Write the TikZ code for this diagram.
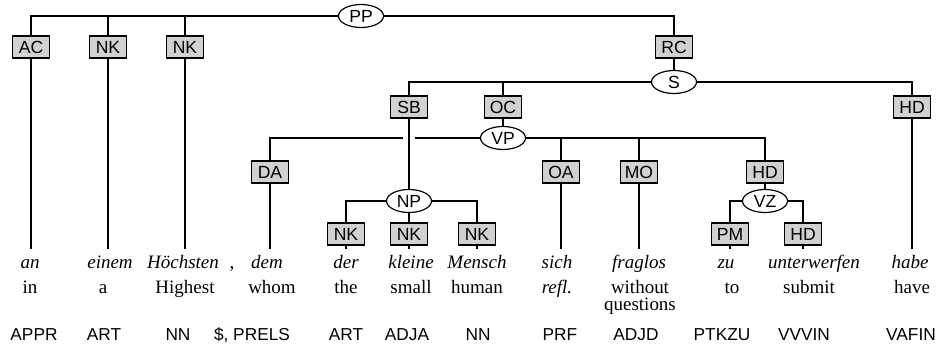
\documentclass[tikz,border=0pt]{standalone}
\usepackage{fontspec}
\setmainfont{Liberation Serif}
\setsansfont{Liberation Sans}
\usetikzlibrary{shapes.geometric}

\begin{document}
\begin{tikzpicture}[x=0.025cm, y=-0.025cm, line width=0.85pt,
    cat node/.style={ellipse,draw,fill=white,inner sep=0pt,minimum width=1.125cm,minimum height=0.575cm,font=\sffamily\fontsize{12.5}{12}\selectfont},
    fn node/.style={rectangle,draw,line width=1.1pt,fill=black!18,inner sep=0pt,minimum width=0.93cm,minimum height=0.55cm,font=\sffamily\fontsize{12.5}{12}\selectfont},
    word/.style={anchor=base,inner ysep=3pt,text height=10pt,font=\itshape\fontsize{13.5}{16}\selectfont},
    gloss/.style={anchor=base,font=\fontsize{13.5}{12}\selectfont},
    tag/.style={anchor=base,font=\sffamily\fontsize{12.3}{12}\selectfont},
    hv/.style={to path={-| (\tikztotarget)}}]

  \useasboundingbox (0,0) rectangle (939,347);

  % categories
  \node[cat node] (PP) at (361,16) {PP};
  \node[cat node] (S)  at (674,82) {S};
  \node[cat node] (VP) at (503,138) {VP};
  \node[cat node] (NP) at (409,201) {NP};
  \node[cat node] (VZ) at (765,201) {VZ};

  % functions
  \node[fn node] (AC)  at (31,47)  {AC};
  \node[fn node] (NKa) at (108,47) {NK};
  \node[fn node] (NKb) at (185,47) {NK};
  \node[fn node] (RC)  at (674,47) {RC};
  \node[fn node] (SB)  at (409,107) {SB};
  \node[fn node] (OC)  at (503,107) {OC};
  \node[fn node] (HDs) at (912,107) {HD};
  \node[fn node] (DA)  at (270,172) {DA};
  \node[fn node] (OA)  at (561,172) {OA};
  \node[fn node] (MO)  at (639,172) {MO};
  \node[fn node] (HDv) at (765,172) {HD};
  \node[fn node] (NKc) at (346,234) {NK};
  \node[fn node] (NKd) at (409,234) {NK};
  \node[fn node] (NKe) at (477,234) {NK};
  \node[fn node] (PM)  at (730,234) {PM};
  \node[fn node] (HDz) at (803,234) {HD};

  % words
  \node[word] (w1)  at (30,268)  {an};
  \node[word] (w2)  at (110,268) {einem};
  \node[word] (w3)  at (183,268) {Höchsten};
  \node[word,font=\fontsize{13.5}{16}\selectfont] (w4) at (232,268) {,};
  \node[word] (w5)  at (267,268) {dem};
  \node[word] (w6)  at (346,268) {der};
  \node[word] (w7)  at (411,268) {kleine};
  \node[word] (w8)  at (477,268) {Mensch};
  \node[word] (w9)  at (557,268) {sich};
  \node[word] (w10) at (639,268) {fraglos};
  \node[word] (w11) at (726,268) {zu};
  \node[word] (w12) at (814,268) {unterwerfen};
  \node[word] (w13) at (910,268) {habe};

  % glosses
  \node[gloss] (g1)  at (30,293)  {in};
  \node[gloss] (g2)  at (103,293) {a};
  \node[gloss] (g3)  at (185,293) {Highest};
  \node[gloss] (g5)  at (272,293) {whom};
  \node[gloss] (g6)  at (346,293) {the};
  \node[gloss] (g7)  at (411,293) {small};
  \node[gloss] (g8)  at (477,293) {human};
  \node[gloss,font=\itshape\fontsize{13.5}{12}\selectfont] (g9) at (557,293) {refl.};
  \node[gloss,align=center] (g10) at (640,310) {without\\questions};
  \node[gloss] (g11) at (732,293) {to};
  \node[gloss] (g12) at (809,293) {submit};
  \node[gloss] (g13) at (912,293) {have};

  % tags
  \node[tag] (t1)  at (34,340)  {APPR};
  \node[tag] (t2)  at (104,340) {ART};
  \node[tag] (t3)  at (178,340) {NN};
  \node[tag] (t5)  at (252,340) {\$, PRELS};
  \node[tag] (t6)  at (346,340) {ART};
  \node[tag] (t7)  at (407,340) {ADJA};
  \node[tag] (t8)  at (478,340) {NN};
  \node[tag] (t9)  at (560,340) {PRF};
  \node[tag] (t10) at (636,340) {ADJD};
  \node[tag] (t11) at (722,340) {PTKZU};
  \node[tag] (t12) at (804,340) {VVVIN};
  \node[tag] (t13) at (911,340) {VAFIN};

  \path[draw]
    (PP) edge[hv] (AC)
         edge[hv] (NKa)
         edge[hv] (NKb)
         edge[hv] (RC)
    (RC) edge (S)
    (S)  edge[hv] (SB)
         edge[hv] (OC)
         edge[hv] (HDs)
    (OC) edge (VP)
    (VP) edge[hv] (DA)
         edge[hv] (OA)
         edge[hv] (MO)
         edge[hv] (HDv)
    (HDv) edge (VZ)
    (NP) edge[hv] (NKc)
         edge (NKd)
         edge[hv] (NKe)
    (VZ) edge[hv] (PM)
         edge[hv] (HDz);

  % SB crosses the VP line
  \draw[preaction={draw,white,line width=8pt}] (SB) -- (NP);

  \foreach \f/\w in {AC/w1, NKa/w2, NKb/w3, DA/w5, NKc/w6, NKd/w7, NKe/w8,
                     OA/w9, MO/w10, PM/w11, HDz/w12, HDs/w13}
    \draw (\f) -- (\f |- \w.north);

\end{tikzpicture}
\end{document}
